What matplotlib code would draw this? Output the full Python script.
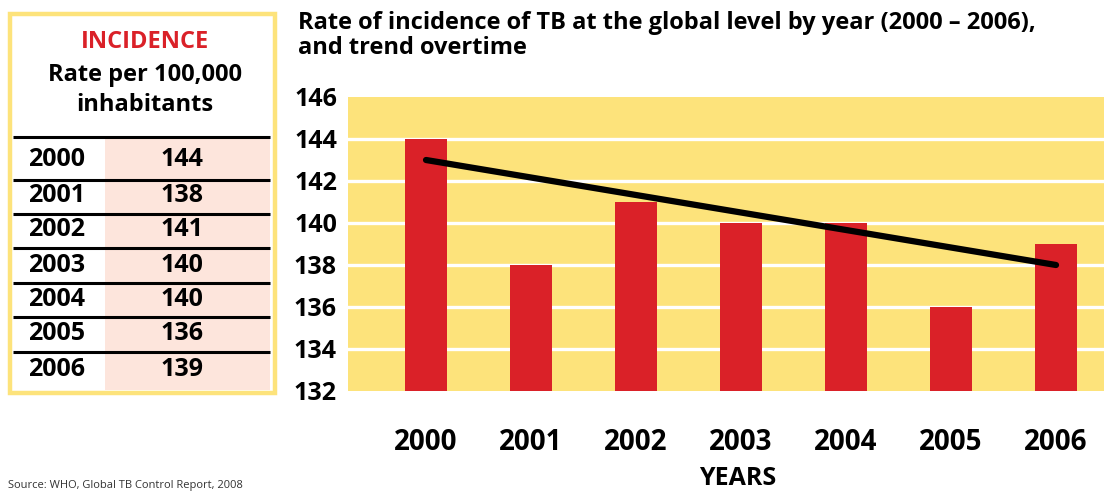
import matplotlib.pyplot as plt
from matplotlib.patches import Rectangle

plt.rcParams['font.family'] = ['Open Sans', 'DejaVu Sans']
plt.rcParams['font.weight'] = 'bold'

years = ["2000", "2001", "2002", "2003", "2004", "2005", "2006"]
incidence = [144, 138, 141, 140, 140, 136, 139]
trend_start = 143
trend_end = 138
y_ticks = [132, 134, 136, 138, 140, 142, 144, 146]

yellow = "#FDE37B"
red = "#DA2128"
pink = "#FDE5DC"

W, H = 1104, 493
fig = plt.figure(figsize=(W / 100, H / 100), dpi=100)

# ---- bar chart ----
ax = fig.add_axes([348 / W, (H - 391) / H, 756 / W, 294 / H])
ax.set_facecolor(yellow)
x = list(range(len(years)))
ax.set_ylim(132, 146)
ax.set_xlim(-0.743, 6.457)
for v in y_ticks[1:-1]:
    ax.axhline(v, color="white", lw=2.4, zorder=1)
ax.bar(x, [v - 132 for v in incidence], bottom=132, width=0.4, color=red,
       zorder=2)
ax.plot([x[0], x[-1]], [trend_start, trend_end], color="black", lw=4.5,
        solid_capstyle="round", zorder=3)
ax.set_yticks(y_ticks)
ax.set_yticklabels([str(t) for t in y_ticks], fontsize=18, fontweight="bold")
ax.set_xticks(x)
ax.set_xticklabels(years, fontsize=20, fontweight="bold")
ax.tick_params(axis="y", length=0, pad=8)
ax.tick_params(axis="x", length=0, pad=27)
for s in ax.spines.values():
    s.set_visible(False)

fig.text(298 / W, 1 - 11 / H,
         "Rate of incidence of TB at the global level by year (2000 – 2006),\nand trend overtime",
         fontsize=17, fontweight="bold", va="top", ha="left", linespacing=1.05)
fig.text(738 / W, 1 - 466 / H, "YEARS", fontsize=18, fontweight="bold",
         ha="center", va="top")
fig.text(8 / W, 1 - 491 / H, "Source: WHO, Global TB Control Report, 2008",
         fontsize=8, fontweight="normal", color="#333333", ha="left",
         va="bottom")

# ---- table on the left ----
tx = fig.add_axes([0, 0, 290 / W, 1])
tx.set_xlim(0, 290)
tx.set_ylim(H, 0)
tx.axis("off")
tx.add_patch(Rectangle((10, 14), 265, 379, facecolor="white",
                       edgecolor=yellow, lw=3.2))
tx.add_patch(Rectangle((105, 137), 165, 253, facecolor=pink, edgecolor="none"))
row_lines = [137, 180, 214, 248, 283, 317, 352]
row_centers = [160, 196, 230, 265, 299, 334, 369]
for yl in row_lines:
    tx.plot([13, 270], [yl, yl], color="black", lw=2.2, solid_capstyle="butt")
for yr, val, yc in zip(years, incidence, row_centers):
    tx.text(28, yc, yr, fontsize=18, fontweight="bold", ha="left", va="center")
    tx.text(182, yc, str(val), fontsize=18, fontweight="bold", ha="center",
            va="center")
tx.text(145, 42, "INCIDENCE", fontsize=17, fontweight="bold", color=red,
        ha="center", va="center")
tx.text(145, 75, "Rate per 100,000", fontsize=17, fontweight="bold",
        ha="center", va="center")
tx.text(145, 105, "inhabitants", fontsize=17, fontweight="bold",
        ha="center", va="center")

fig.savefig("out.png", dpi=100)
